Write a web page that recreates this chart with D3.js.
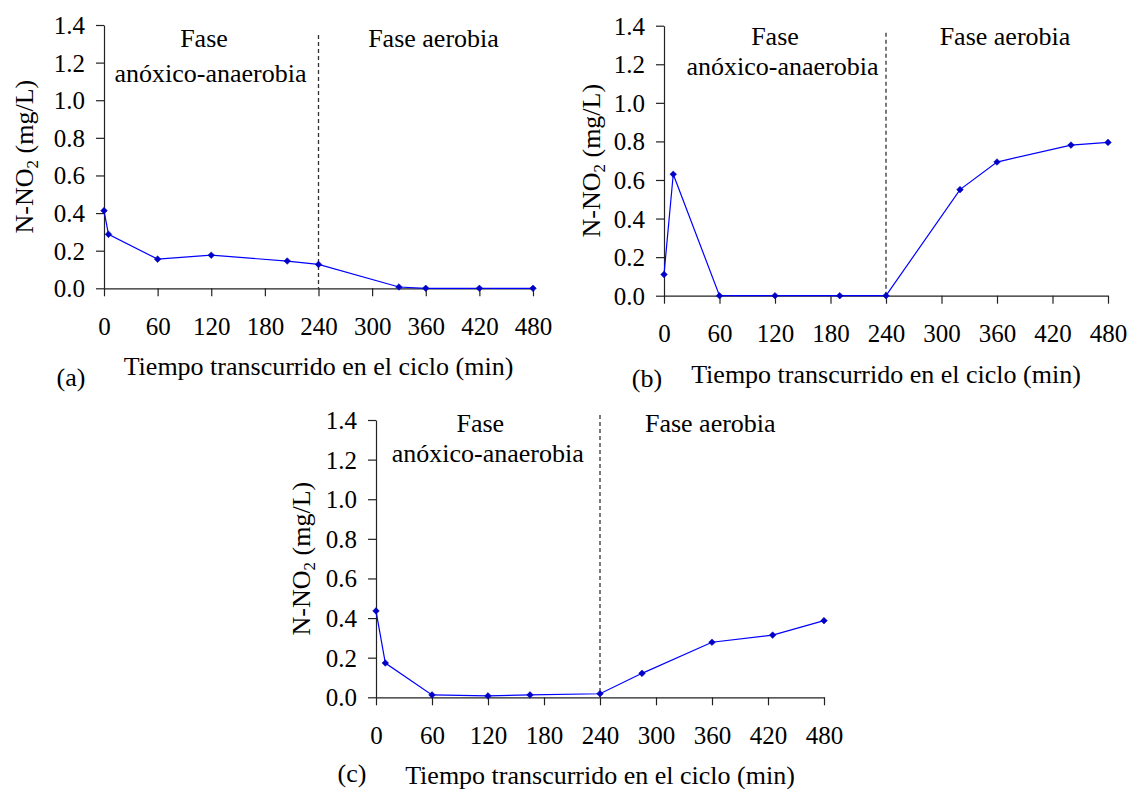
<!DOCTYPE html>
<html>
<head>
<meta charset="utf-8">
<script src="https://cdn.jsdelivr.net/npm/d3@7"></script>
<style>
html, body { margin: 0; padding: 0; background: #fff; }
svg { display: block; }
svg text { font-family: "Liberation Serif", "Times New Roman", serif !important; fill: #000; }
</style>
</head>
<body>
<svg id="chart" width="1129" height="789"></svg>
<script>
// ---- data ----
const xTicks = [0, 60, 120, 180, 240, 300, 360, 420, 480];
const yTicks = [0, 0.2, 0.4, 0.6, 0.8, 1.0, 1.2, 1.4];
const phaseBoundary = 240;
const xTitle = "Tiempo transcurrido en el ciclo (min)";
const phase1Line1 = "Fase";
const phase1Line2 = "anóxico-anaerobia";
const phase2 = "Fase aerobia";

const timeA = [0, 5, 60, 120, 205, 240, 330, 360, 420, 480];
const valA  = [0.413, 0.287, 0.155, 0.176, 0.145, 0.127, 0.007, 0, 0, 0];
const timeB = [0, 10, 60, 120, 190, 240, 320, 360, 440, 480];
const valB  = [0.11, 0.63, 0, 0, 0, 0, 0.55, 0.693, 0.781, 0.795];
const timeC = [0, 10, 60, 120, 165, 240, 285, 360, 425, 480];
const valC  = [0.436, 0.173, 0.012, 0.007, 0.012, 0.018, 0.121, 0.278, 0.314, 0.387];

// ---- layout ----
const panels = [
  { tag: "(a)", t: timeA, v: valA, L: 104, R: 533, T: 25, B: 288.3,
    yTitleX: 33, tagX: 71, tagY: 386,
    f1x: 204, f1y: 47.3, f2x: 210.5, f2y: 81.7, aex: 433.5, aey: 47.3, dashTop: 35 },
  { tag: "(b)", t: timeB, v: valB, L: 664, R: 1108, T: 25.7, B: 295.7,
    yTitleX: 600, tagX: 647, tagY: 387,
    f1x: 775, f1y: 45, f2x: 782.5, f2y: 75, aex: 1005, aey: 45, dashTop: 32.7 },
  { tag: "(c)", t: timeC, v: valC, L: 376, R: 824, T: 420, B: 697.3,
    yTitleX: 310, tagX: 352, tagY: 782,
    f1x: 480.3, f1y: 431.7, f2x: 487.7, f2y: 461.7, aex: 710.3, aey: 431.7, dashTop: 415 }
];

const FONT = "'Liberation Serif', 'Times New Roman', serif";
const svg = d3.select("#chart");
svg.append("rect").attr("width", 1129).attr("height", 789).attr("fill", "#fff");

const diamond = d3.symbol().type(d3.symbolSquare).size(22);

panels.forEach(p => {
  const x = d3.scaleLinear().domain([0, 480]).range([p.L, p.R]);
  const y = d3.scaleLinear().domain([0, 1.4]).range([p.B, p.T]);
  const g = svg.append("g");

  // axes
  const xa = g.append("g").attr("transform", `translate(0,${p.B})`)
    .call(d3.axisBottom(x).tickValues(xTicks).tickSize(8).tickSizeOuter(0).tickPadding(21)
      .tickFormat(d3.format("d")));
  const ya = g.append("g").attr("transform", `translate(${p.L},0)`)
    .call(d3.axisLeft(y).tickValues(yTicks).tickSize(8).tickSizeOuter(0).tickPadding(11)
      .tickFormat(d3.format(".1f")));
  [xa, ya].forEach(a => {
    a.attr("font-family", FONT);
    a.selectAll("path.domain").attr("stroke", "#222").attr("stroke-width", 1.2);
    a.selectAll(".tick line").attr("stroke", "#222").attr("stroke-width", 1.2);
    a.selectAll(".tick text").attr("font-size", 25)
      .style("font-family", FONT).attr("fill", "#000");
  });
  ya.selectAll(".tick text").attr("dy", "0.34em");
  xa.selectAll(".tick text").attr("dy", "0.71em");

  // phase boundary
  g.append("line")
    .attr("x1", x(phaseBoundary)).attr("x2", x(phaseBoundary))
    .attr("y1", p.dashTop).attr("y2", p.B)
    .attr("stroke", "#333").attr("stroke-width", 1.3).attr("stroke-dasharray", "4,3");

  // phase labels
  g.append("text").attr("x", p.f1x).attr("y", p.f1y).attr("text-anchor", "middle")
    .attr("font-size", 26).text(phase1Line1);
  g.append("text").attr("x", p.f2x).attr("y", p.f2y).attr("text-anchor", "middle")
    .attr("font-size", 26).text(phase1Line2);
  g.append("text").attr("x", p.aex).attr("y", p.aey).attr("text-anchor", "middle")
    .attr("font-size", 26).text(phase2);

  // data line
  const pts = p.t.map((t, i) => [t, p.v[i]]);
  g.append("path").datum(pts)
    .attr("fill", "none").attr("stroke", "#0000ff").attr("stroke-width", 1.2)
    .attr("d", d3.line().x(d => x(d[0])).y(d => y(d[1])));
  g.selectAll("path.mk").data(pts).enter().append("path").attr("class", "mk")
    .attr("transform", d => `translate(${x(d[0])},${y(d[1])}) rotate(45)`)
    .attr("d", diamond)
    .attr("fill", "#0000cc").attr("stroke", "#0000aa").attr("stroke-width", 0.5);

  // x title
  g.append("text").attr("x", (p.L + p.R) / 2).attr("y", p.B + 87)
    .attr("text-anchor", "middle").attr("font-size", 26).text(xTitle);

  // y title
  const yt = g.append("text")
    .attr("transform", `translate(${p.yTitleX},${(p.T + p.B) / 2}) rotate(-90)`)
    .attr("text-anchor", "middle").attr("font-size", 26);
  yt.append("tspan").text("N-NO");
  yt.append("tspan").attr("font-size", 17).attr("dy", 5).text("2");
  yt.append("tspan").attr("dy", -5).text(" (mg/L)");

  // panel tag
  g.append("text").attr("x", p.tagX).attr("y", p.tagY).attr("text-anchor", "middle")
    .attr("font-size", 26).text(p.tag);
});
</script>
</body>
</html>
